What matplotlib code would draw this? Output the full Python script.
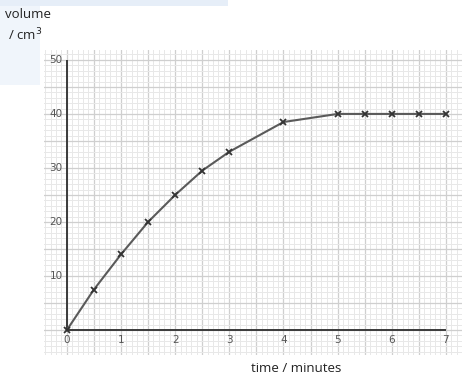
import matplotlib
matplotlib.use('Agg')
import matplotlib.pyplot as plt
from matplotlib.patches import Rectangle
import numpy as np

# readings taken off the graph
time_min = [0, 0.5, 1, 1.5, 2, 2.5, 3, 4, 5, 5.5, 6, 6.5, 7]
volume_cm3 = [0, 7.5, 14, 20, 25, 29.5, 33, 38.5, 40, 40, 40, 40, 40]

x_ticks = [0, 1, 2, 3, 4, 5, 6, 7]
y_ticks = [10, 20, 30, 40, 50]

fig = plt.figure(figsize=(4.74, 3.78), dpi=100)

# faint blue scan border at the top-left
fig.patches.append(Rectangle((0, 0.985), 0.48, 0.015, transform=fig.transFigure,
                             facecolor='#e6eef8', edgecolor='none', zorder=0))
fig.patches.append(Rectangle((0, 0.775), 0.085, 0.21, transform=fig.transFigure,
                             facecolor='#f0f5fb', edgecolor='none', zorder=0))

ax = fig.add_axes([0.093, 0.061, 0.882, 0.807])
ax.set_xlim(-0.42, 7.3)
ax.set_ylim(-4.6, 51.85)

# graph paper
ax.set_xticks(np.arange(0, 7.31, 0.5))
ax.set_xticks(np.arange(-0.4, 7.31, 0.1), minor=True)
ax.set_yticks(np.arange(0, 51, 5))
ax.set_yticks(np.arange(-4, 52, 1), minor=True)
ax.grid(which='minor', color='#e8e8e8', linewidth=0.7)
ax.grid(which='major', color='#cfcfcf', linewidth=0.9)
ax.tick_params(which='both', length=0, labelbottom=False, labelleft=False)
for s in ax.spines.values():
    s.set_visible(False)
ax.set_axisbelow(True)

# hand drawn axes
ax.hlines(0, 0, x_ticks[-1], color='#3a3a3a', linewidth=1.4)
ax.vlines(0, 0, y_ticks[-1], color='#3a3a3a', linewidth=1.4)

for t in x_ticks:
    ax.text(t, -1.9, str(t), ha='center', va='center', fontsize=7.5, color='#555555')
for v in y_ticks:
    ax.text(-0.08, v, str(v), ha='right', va='center', fontsize=7.5, color='#555555')

ax.plot(time_min, volume_cm3, color='#5a5a5a', linewidth=1.5,
        marker='x', markersize=4, markeredgewidth=1.3, markeredgecolor='#333333')

fig.text(5 / 474, 1 - 15 / 378, 'volume', fontsize=9.5, family='Open Sans',
         ha='left', va='center', color='#222222')
fig.text(8 / 474, 1 - 35 / 378, '/ cm$^{3}$', fontsize=9.5, family='Open Sans',
         ha='left', va='center', color='#222222')
fig.text(296 / 474, 1 - 368 / 378, 'time / minutes', fontsize=9.5, family='Open Sans',
         ha='center', va='center', color='#222222')

fig.savefig('out.png', dpi=100)
